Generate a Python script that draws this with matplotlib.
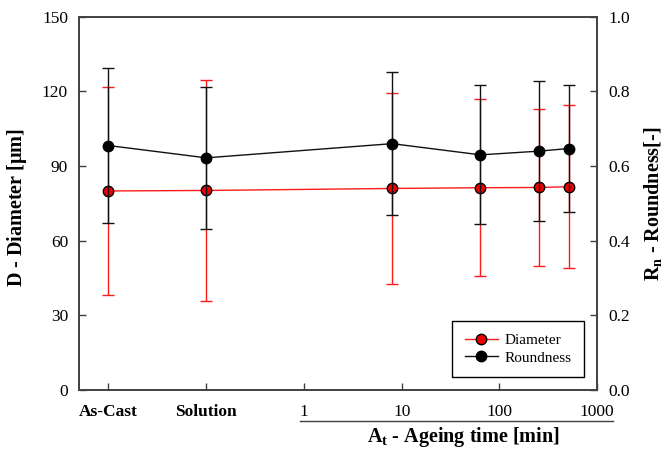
import numpy as np
import matplotlib.pyplot as plt
from matplotlib.lines import Line2D

plt.rcParams['font.family'] = 'Liberation Serif'
plt.rcParams['mathtext.fontset'] = 'custom'
plt.rcParams['mathtext.rm'] = 'Liberation Serif'
plt.rcParams['mathtext.bf'] = 'Liberation Serif:bold'
plt.rcParams['mathtext.it'] = 'Liberation Serif:italic'

# conditions: two categories followed by ageing times in minutes
categories = ['As-Cast', 'Solution']
ageing_time = [8, 64, 256, 512]
time_ticks = [1, 10, 100, 1000]

diameter = [80.0, 80.2, 81.0, 81.3, 81.4, 81.7]
diameter_err = [41.8, 44.3, 38.2, 35.5, 31.5, 32.7]
roundness = [0.655, 0.622, 0.660, 0.630, 0.640, 0.647]
roundness_err = [0.208, 0.190, 0.192, 0.186, 0.187, 0.171]

# categories sit one decade apart to the left of log10(1) = 0
cat_pos = [-len(categories) + i for i in range(len(categories))]
x = np.array(cat_pos + list(np.log10(ageing_time)))

fig = plt.figure(figsize=(6.65, 4.51), dpi=100)
ax = fig.add_axes([0.119, 0.135, 0.779, 0.828])
ax2 = ax.twinx()

ax.errorbar(x, diameter, yerr=diameter_err, color='#ff1a1a', lw=1,
            marker='o', ms=7.5, mfc='#ee0000', mec='black', mew=1,
            capsize=4, elinewidth=1, capthick=1, label='Diameter')
ax2.errorbar(x, roundness, yerr=roundness_err, color='#111111', lw=1,
             marker='o', ms=7.5, mfc='black', mec='black',
             capsize=4, elinewidth=1, capthick=1, label='Roundness')

ax.set_xlim(-2.3, 3)
ax.set_ylim(0, 150)
ax2.set_ylim(0, 1.0)
ax.set_yticks([0, 30, 60, 90, 120, 150])
ax2.set_yticks([0.0, 0.2, 0.4, 0.6, 0.8, 1.0])
ax2.set_yticklabels(['0.0', '0.2', '0.4', '0.6', '0.8', '1.0'])

tick_pos = cat_pos + list(np.log10(time_ticks))
ax.set_xticks(tick_pos)
ax.set_xticklabels(categories + [str(t) for t in time_ticks])
for lab in ax.get_xticklabels()[:len(categories)]:
    lab.set_fontweight('bold')

for a in (ax, ax2):
    a.tick_params(direction='in', length=5, width=1, labelsize=12.5,
                  color='#404040', pad=8)
    for s in a.spines.values():
        s.set_color('#404040')
        s.set_linewidth(1.2)
ax.tick_params(axis='x', pad=10)

ax.set_ylabel(r'D - Diameter [$\mathbf{\mu}$m]', fontsize=14.5, fontweight='bold')
ax.yaxis.set_label_coords(-0.097, 0.49)
ax2.set_ylabel(r'R$_\mathbf{n}$ - Roundness[-]', fontsize=14.5, fontweight='bold')
ax2.yaxis.set_label_coords(1.087, 0.5)

# line under the time axis and its title
fig.add_artist(Line2D([0.451, 0.922], [0.066, 0.066], color='#404040', lw=1))
fig.text(0.697, 0.031, r'A$_\mathbf{t}$ - Ageing time [min]', fontsize=14.5,
         fontweight='bold', ha='center', va='center')

h = [Line2D([], [], color='#ff1a1a', lw=1, marker='o', ms=7.5, mfc='#ee0000', mec='black'),
     Line2D([], [], color='#111111', lw=1, marker='o', ms=7.5, mfc='black', mec='black')]
leg = ax2.legend(h, ['Diameter', 'Roundness'], loc='lower right',
                 bbox_to_anchor=(0.975, 0.035), fontsize=11, fancybox=False,
                 edgecolor='black', framealpha=1, handlelength=2.2,
                 handletextpad=0.45, borderpad=0.8, labelspacing=0.25,
                 borderaxespad=0)
leg.get_frame().set_linewidth(1)

fig.savefig('out.png', dpi=100)
